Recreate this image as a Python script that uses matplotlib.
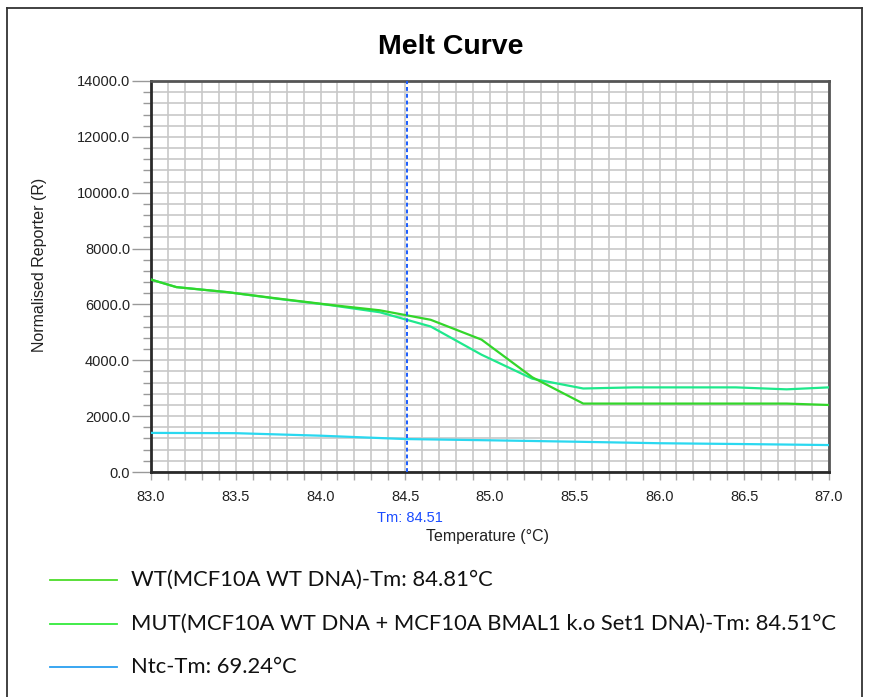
import numpy as np
import matplotlib.pyplot as plt
from matplotlib.lines import Line2D
from matplotlib.ticker import MultipleLocator, FormatStrFormatter

# melt curve readings (temperature in degC, normalised reporter)
temps = [83.0, 83.15, 83.45, 83.75, 84.05, 84.35, 84.65, 84.95, 85.25,
         85.55, 85.85, 86.15, 86.45, 86.75, 87.0]
wt_rn = [6890, 6620, 6440, 6210, 5990, 5790, 5450, 4740, 3390,
         2450, 2450, 2450, 2450, 2450, 2400]
mut_rn = [6890, 6620, 6440, 6200, 5980, 5720, 5210, 4200, 3340,
          2990, 3030, 3030, 3030, 2960, 3030]
ntc_temps = [83.0, 83.5, 84.0, 84.5, 85.0, 85.5, 86.0, 86.5, 87.0]
ntc_rn = [1400, 1390, 1300, 1180, 1135, 1085, 1030, 1000, 965]

tm_line = 84.51

legend_labels = [
    "WT(MCF10A WT DNA)-Tm: 84.81\u00b0C",
    "MUT(MCF10A WT DNA + MCF10A BMAL1 k.o Set1 DNA)-Tm: 84.51\u00b0C",
    "Ntc-Tm: 69.24\u00b0C",
]

W, H = 876, 697
fig = plt.figure(figsize=(W / 100, H / 100), dpi=100)
fig.patch.set_facecolor("white")

# outer frame
frame_kw = dict(color="#333333", lw=1.3, transform=fig.transFigure)
fig.add_artist(Line2D([7 / W, 7 / W], [0, 1 - 8 / H], **frame_kw))
fig.add_artist(Line2D([7 / W, 862 / W], [1 - 8 / H, 1 - 8 / H], **frame_kw))
fig.add_artist(Line2D([862 / W, 862 / W], [0, 1 - 8 / H], **frame_kw))

ax = fig.add_axes([151 / W, (H - 472) / H, 678 / W, 391 / H])

ax.plot(ntc_temps, ntc_rn, color="#2ad8f0", lw=1.6, zorder=3)
ax.plot(temps, mut_rn, color="#1fe88c", lw=1.6, zorder=4)
ax.plot(temps, wt_rn, color="#33d62a", lw=1.6, zorder=5)
ax.axvline(tm_line, color="#1a5cff", lw=1.4, ls=(0, (2, 1.5)), zorder=6)

ax.set_xlim(83.0, 87.0)
ax.set_ylim(0, 14000)
ax.xaxis.set_major_locator(MultipleLocator(0.5))
ax.xaxis.set_minor_locator(MultipleLocator(0.1))
ax.yaxis.set_major_locator(MultipleLocator(2000))
ax.yaxis.set_minor_locator(MultipleLocator(400))
ax.xaxis.set_major_formatter(FormatStrFormatter("%.1f"))
ax.yaxis.set_major_formatter(FormatStrFormatter("%.1f"))

ax.grid(which="both", color="#c8c8c8", lw=1.2, zorder=0)
ax.set_axisbelow(True)

for side in ["left", "bottom"]:
    ax.spines[side].set_color("#2a2a2a")
    ax.spines[side].set_linewidth(2.0)
for side in ["top", "right"]:
    ax.spines[side].set_color("#555555")
    ax.spines[side].set_linewidth(2.0)

ax.tick_params(axis="y", which="major", length=14, width=1.0, color="#999999",
               pad=1, labelcolor="#222222")
ax.tick_params(axis="y", which="minor", length=6, width=1.0, color="#999999")
ax.tick_params(axis="x", which="both", length=6, width=1.0, color="#aaaaaa",
               pad=7, labelcolor="#222222")
for lab in ax.get_xticklabels() + ax.get_yticklabels():
    lab.set_fontfamily("Liberation Sans")
    lab.set_fontsize(10.5)

fig.text(451 / W, 1 - 47 / H, "Melt Curve", ha="center", va="center",
         fontsize=20.5, fontweight="bold", family="Liberation Sans")
fig.text(40 / W, 1 - 265 / H, "Normalised Reporter (R)", rotation=90,
         ha="center", va="center", fontsize=11.5, family="Liberation Sans",
         color="#222222")
fig.text(488 / W, 1 - 536 / H, "Temperature (\u00b0C)", ha="center",
         va="center", fontsize=11.5, family="Liberation Sans", color="#222222")
ax.text(tm_line + 0.02, -0.118, "Tm: 84.51", transform=ax.get_xaxis_transform(),
        ha="center", va="center", fontsize=10.5, color="#1a4cff",
        family="Liberation Sans")

# legend rows under the chart
legend_colors = ["#4cdc2a", "#33ea3a", "#2a9ff0"]
row_y = [580, 624, 667]
for label, col, y in zip(legend_labels, legend_colors, row_y):
    yy = 1 - y / H
    fig.add_artist(Line2D([50 / W, 117 / W], [yy, yy], color=col, lw=1.3,
                          transform=fig.transFigure))
    fig.text(131 / W, yy, label, ha="left", va="center", fontsize=15.8,
             family="Lato", color="#111111")

fig.savefig("out.png", dpi=100)
